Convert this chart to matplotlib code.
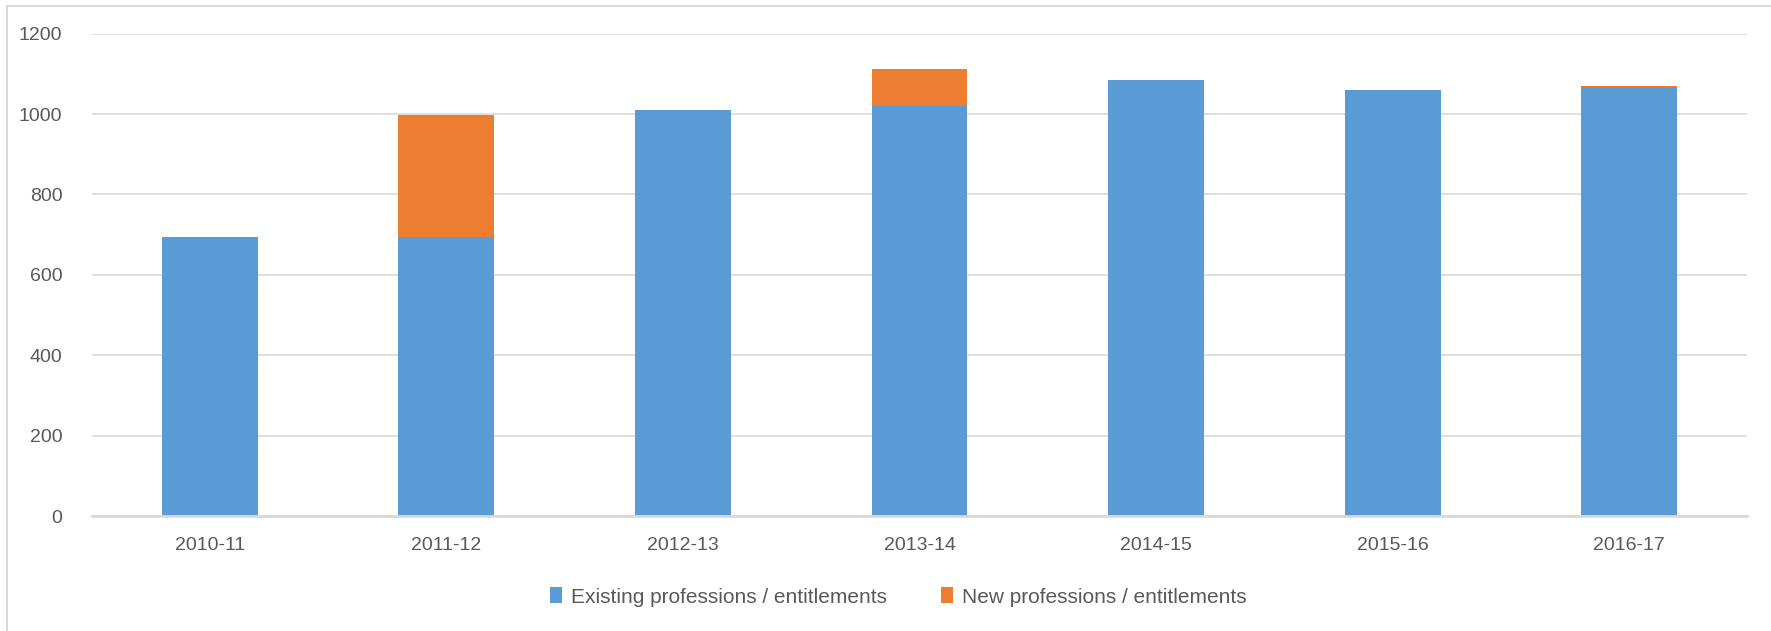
from matplotlib import pyplot as plt
import numpy as np

years = ['2010-11', '2011-12', '2012-13', '2013-14', '2014-15', '2015-16', '2016-17']
existing = [694, 694, 1011, 1021, 1084, 1060, 1066]
new = [0, 303, 0, 91, 0, 0, 4]

plt.rcParams['font.family'] = ['Liberation Sans', 'DejaVu Sans']

fig = plt.figure(figsize=(17.71, 6.31), dpi=100)
ax = fig.add_axes([0.0517, 0.1815, 0.935, 0.7654])

x = np.arange(len(years))
ax.bar(x, existing, width=0.405, color='#5B9BD5', label='Existing professions / entitlements', zorder=2)
ax.bar(x, new, width=0.405, bottom=existing, color='#ED7D31', label='New professions / entitlements', zorder=2)

ax.set_xlim(-0.5, len(years) - 0.5)
ax.set_ylim(0, 1200)
ax.set_yticks(range(0, 1201, 200))
ax.set_xticks(x)
ax.set_xticklabels(years)
ax.yaxis.grid(True, color='#D9D9D9', linewidth=1.2, zorder=0)
ax.tick_params(axis='both', length=0, labelsize=14, colors='#595959')
ax.tick_params(axis='x', pad=15)
ax.tick_params(axis='y', pad=21)
for s in ['top', 'right', 'left']:
    ax.spines[s].set_visible(False)
ax.spines['bottom'].set_color('#D9D9D9')
ax.spines['bottom'].set_linewidth(2)
ax.spines['bottom'].set_zorder(3)

leg = fig.legend(loc='center', bbox_to_anchor=(0.507, 0.054), ncol=2, frameon=False,
                 fontsize=15, handlelength=0.6, handleheight=0.8, handletextpad=0.4,
                 columnspacing=2.6)
for t in leg.get_texts():
    t.set_color('#595959')

# chart border on the left and top
fig.add_artist(plt.Line2D([0.004, 0.004], [0, 0.99], transform=fig.transFigure, color='#D9D9D9', linewidth=1.5))
fig.add_artist(plt.Line2D([0.004, 1], [0.99, 0.99], transform=fig.transFigure, color='#D9D9D9', linewidth=1.5))

fig.savefig('out.png', dpi=100)
